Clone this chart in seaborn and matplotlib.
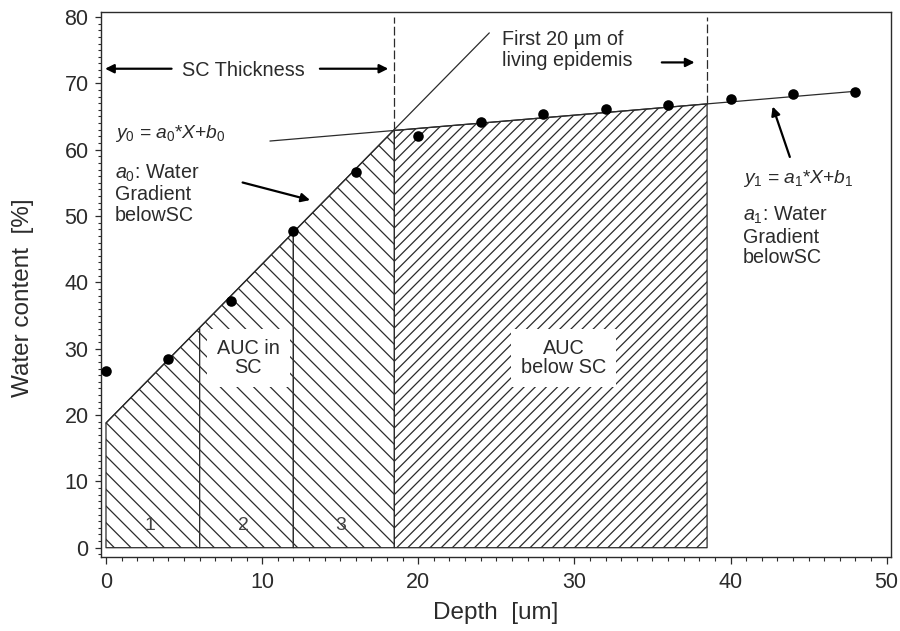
import numpy as np
import matplotlib
matplotlib.use("Agg")
import matplotlib.pyplot as plt
from matplotlib.ticker import MultipleLocator
import seaborn as sns

# measured water profile
depth = [0, 4, 8, 12, 16, 20, 24, 28, 32, 36, 40, 44, 48]
water = [26.6, 28.4, 37.2, 47.8, 56.6, 62.0, 64.2, 65.3, 66.1, 66.8, 67.7, 68.4, 68.7]

# fitted lines (end points)
fit0_x = [0, 24.55]
fit0_y = [18.8, 77.6]
fit1_x = [10.5, 48]
fit1_y = [61.3, 68.8]

# region boundaries
sc_bounds = [0, 6, 12, 18.47]
below_sc_end = 38.5
segment_labels = ["1", "2", "3"]

INK = "#2b2b2b"

sns.set_theme(style="ticks")
plt.rcParams["font.family"] = ["Liberation Sans", "DejaVu Sans"]
plt.rcParams["mathtext.fontset"] = "custom"
plt.rcParams["mathtext.it"] = "Liberation Sans:italic"
plt.rcParams["mathtext.rm"] = "Liberation Sans"
plt.rcParams["hatch.linewidth"] = 0.9
plt.rcParams["hatch.color"] = "#444444"

fig = plt.figure(figsize=(9, 6.31), dpi=100)
ax = fig.add_axes([101 / 900, 1 - 557 / 631, 790 / 900, 545 / 631])

sc_end = sc_bounds[-1]
y_int = np.interp(sc_end, fit0_x, fit0_y)

# AUC in SC, three segments
for i in range(len(sc_bounds) - 1):
    xs = np.array([sc_bounds[i], sc_bounds[i + 1]])
    ax.fill_between(xs, 0, np.interp(xs, fit0_x, fit0_y), facecolor="white",
                    edgecolor=INK, hatch="\\\\", linewidth=0.9, zorder=1)
    ax.text(xs.mean() - 0.2, 3.3, segment_labels[i], ha="center", va="center",
            fontsize=14, color="#444444", zorder=3)

# AUC below SC
xs = np.array([sc_end, below_sc_end])
ax.fill_between(xs, 0, np.interp(xs, fit1_x, fit1_y), facecolor="white",
                edgecolor=INK, hatch="///", linewidth=0.9, zorder=1)

sns.lineplot(x=fit0_x, y=fit0_y, color=INK, linewidth=0.9, ax=ax, zorder=2)
sns.lineplot(x=fit1_x, y=fit1_y, color=INK, linewidth=0.9, ax=ax, zorder=2)
sns.scatterplot(x=depth, y=water, color="black", s=58, linewidth=0, ax=ax, zorder=5)

ax.vlines(sc_end, y_int, 80.05, colors=INK, linewidth=0.9, linestyles=(0, (7, 2.5)))
ax.vlines(below_sc_end, np.interp(below_sc_end, fit1_x, fit1_y), 80.05, colors=INK,
          linewidth=0.9, linestyles=(0, (7, 2.5)))

# annotations
arrow = dict(arrowstyle="-|>", color="black", lw=1.6, mutation_scale=13, shrinkA=0, shrinkB=0)
ax.text(8.78, 71.9, "SC Thickness", ha="center", va="center", fontsize=14.3, color=INK)
ax.annotate("", xy=(-0.06, 72.2), xytext=(4.2, 72.2), arrowprops=arrow)
ax.annotate("", xy=(18.08, 72.2), xytext=(13.7, 72.2), arrowprops=arrow)

ax.text(25.35, 75.0, "First 20 µm of\nliving epidemis", ha="left", va="center",
        fontsize=14.2, color=INK, linespacing=1.1)
ax.annotate("", xy=(37.7, 73.15), xytext=(35.6, 73.15), arrowprops=arrow)

ax.text(0.58, 62.4, r"$y_0$ = $a_0$*$X$+$b_0$", ha="left", va="center", fontsize=13.9, color=INK)
ax.text(0.58, 53.4, "$a_0$: Water\nGradient\nbelowSC", ha="left", va="center",
        fontsize=14.2, color=INK, linespacing=1.1)
ax.annotate("", xy=(13.07, 52.4), xytext=(8.75, 55.05), arrowprops=arrow)

ax.text(40.8, 55.7, r"$y_1$ = $a_1$*$X$+$b_1$", ha="left", va="center", fontsize=13.9, color=INK)
ax.text(40.8, 47.0, "$a_1$: Water\nGradient\nbelowSC", ha="left", va="center",
        fontsize=14.2, color=INK, linespacing=1.1)
ax.annotate("", xy=(42.7, 66.5), xytext=(43.8, 58.9), arrowprops=arrow)

box = dict(boxstyle="square,pad=0.5", facecolor="white", edgecolor="none")
ax.text(9.12, 28.6, "AUC in\nSC", ha="center", va="center", fontsize=14.3, color=INK,
        bbox=box, zorder=4, linespacing=1.05)
ax.text(29.3, 28.6, "AUC\nbelow SC", ha="center", va="center", fontsize=14.3, color=INK,
        bbox=box, zorder=4, linespacing=1.05)

# axes
ax.set_xlim(-0.32, 50.28)
ax.set_ylim(-1.4, 80.75)
ax.xaxis.set_major_locator(MultipleLocator(10))
ax.xaxis.set_minor_locator(MultipleLocator(1))
ax.yaxis.set_major_locator(MultipleLocator(10))
ax.yaxis.set_minor_locator(MultipleLocator(1))
ax.tick_params(axis="both", which="major", labelsize=15.5, colors=INK, width=0.9, direction="out")
ax.tick_params(axis="x", which="major", length=5, pad=6)
ax.tick_params(axis="x", which="minor", length=3, width=0.8, color=INK)
ax.tick_params(axis="y", which="major", length=4, pad=5)
ax.tick_params(axis="y", which="minor", length=2.2, width=0.8, color=INK)
for s in ax.spines.values():
    s.set_color(INK)
    s.set_linewidth(1.0)

ax.set_xlabel("Depth  [um]", fontsize=17.5, color=INK)
ax.set_ylabel("Water content  [%]", fontsize=17.5, color=INK)
ax.xaxis.set_label_coords(0.5, -0.083)
ax.yaxis.set_label_coords(-0.085, 0.476)

fig.savefig("out.png", dpi=100, facecolor="white")
